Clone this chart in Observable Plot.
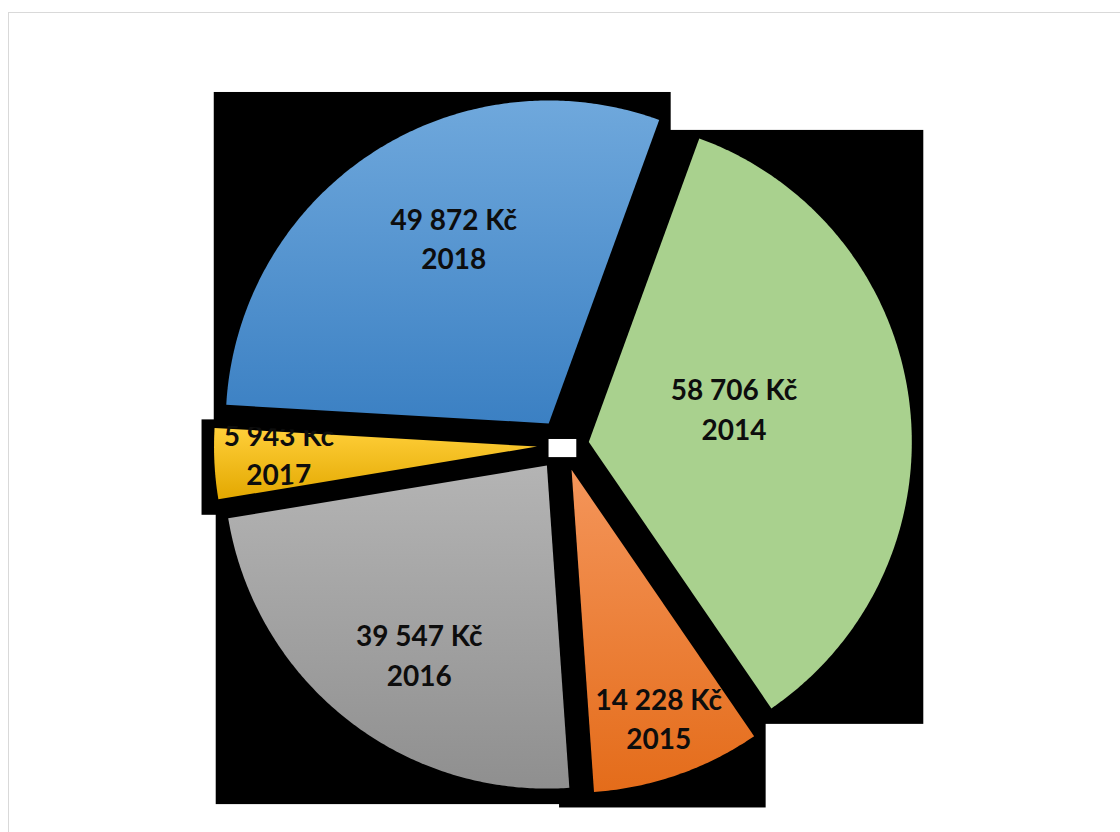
<!DOCTYPE html>
<html><head><meta charset="utf-8">
<script src="https://cdn.jsdelivr.net/npm/d3@7"></script>
<script src="https://cdn.jsdelivr.net/npm/@observablehq/plot@0.6"></script>
<style>
html,body{margin:0;padding:0;background:#fff;}
#wrap{position:relative;width:1120px;height:832px;overflow:hidden;}
#frame{position:absolute;left:8px;top:12px;width:1200px;height:900px;border:1px solid #d9d9d9;box-sizing:border-box;}
#chart{position:absolute;left:0;top:0;}
</style></head><body>
<div id="wrap"><div id="frame"></div><div id="chart"></div></div>
<script>
// ---- data ----
const years = ["2014", "2015", "2016", "2017", "2018"];
const values = [58706, 14228, 39547, 5943, 49872];

// ---- style / layout ----
const topColors = ["#a9d18e", "#f4955a", "#b4b4b4", "#ffcf3a", "#6fa8dc"];
const bottomColors = ["#a9d18e", "#e46c1a", "#8f8f8f", "#e3a800", "#3b80c3"];
const labelShift = [-5, 0, -4.5, 1, 6];          // degrees off the bisector
const labelRadius = [0.46, 0.82, 0.71, 0.80, 0.64]; // fraction of radius

const W = 1120, H = 832, CX = 562.5, CY = 444.7, R = 323, EXPLODE = 26, START = 20;
const PAD = {l: 12, r: 12, t: 8, b: 16};

const fmt = d3.formatLocale({decimal: ",", thousands: " ", grouping: [3], currency: ["", " Kč"]}).format(",.0f");
const total = d3.sum(values);
const rad = a => a * Math.PI / 180;
const pt = (cx, cy, r, a) => ({x: cx + r * Math.sin(rad(a)), y: cy - r * Math.cos(rad(a))});

let acc = START;
const slices = values.map((v, i) => {
  const a0 = acc, a1 = acc + v / total * 360; acc = a1;
  const mid = (a0 + a1) / 2;
  const vtx = pt(CX, CY, EXPLODE, mid);
  const n = Math.max(2, Math.ceil((a1 - a0) / 0.5));
  const pts = [{x: vtx.x, y: vtx.y}];
  for (let k = 0; k <= n; k++) pts.push(pt(vtx.x, vtx.y, R, a0 + (a1 - a0) * k / n));
  pts.push({x: vtx.x, y: vtx.y});
  const box = {
    x1: d3.min(pts, p => p.x) - PAD.l, x2: d3.max(pts, p => p.x) + PAD.r,
    y1: d3.min(pts, p => p.y) - PAD.t, y2: d3.max(pts, p => p.y) + PAD.b
  };
  const lp = pt(vtx.x, vtx.y, R * labelRadius[i], mid + labelShift[i]);
  return {i, year: years[i], value: v, pts, box, label: {x: lp.x, y: lp.y, text: fmt(v) + " Kč\n" + years[i]}};
});

const plot = Plot.plot({
  width: W, height: H, margin: 0,
  x: {domain: [0, W], range: [0, W], axis: null},
  y: {domain: [0, H], range: [0, H], axis: null},
  style: {background: "transparent"},
  marks: [
    Plot.rect(slices.map(s => s.box), {x1: "x1", x2: "x2", y1: "y1", y2: "y2", fill: "black"}),
    ...slices.map(s => Plot.line(s.pts, {x: "x", y: "y", fill: "black", stroke: "none", curve: "linear"})),
    Plot.text(slices.map(s => s.label), {
      x: "x", y: "y", text: "text", fontSize: 28, fontWeight: 700, dy: -3,
      fontFamily: "Lato, 'Open Sans', sans-serif", lineHeight: 1.42, fill: "#0d0d0d", textAnchor: "middle"
    })
  ]
});

// gradients + clip paths
const svg = d3.select(plot);
const defs = svg.insert("defs", ":first-child");
const lineGen = d3.line().x(p => p.x).y(p => p.y);
slices.forEach(s => {
  const g = defs.append("linearGradient").attr("id", "grad" + s.i)
    .attr("x1", 0).attr("y1", 0).attr("x2", 0).attr("y2", 1);
  g.append("stop").attr("offset", "0%").attr("stop-color", topColors[s.i]);
  g.append("stop").attr("offset", "100%").attr("stop-color", bottomColors[s.i]);
  defs.append("clipPath").attr("id", "clip" + s.i).append("path").attr("d", lineGen(s.pts) + "Z");
});
svg.selectAll('g[aria-label="line"]').each(function(_, j) {
  d3.select(this).attr("fill", "url(#grad" + j + ")").selectAll("path").attr("fill", "url(#grad" + j + ")");
});
svg.selectAll('g[aria-label="text"] text').each(function(_, j) {
  const parent = this.parentNode;
  const wrap = document.createElementNS("http://www.w3.org/2000/svg", "g");
  wrap.setAttribute("clip-path", "url(#clip" + j + ")");
  parent.insertBefore(wrap, this);
  wrap.appendChild(this);
});
document.getElementById("chart").appendChild(plot);
</script>
</body></html>
